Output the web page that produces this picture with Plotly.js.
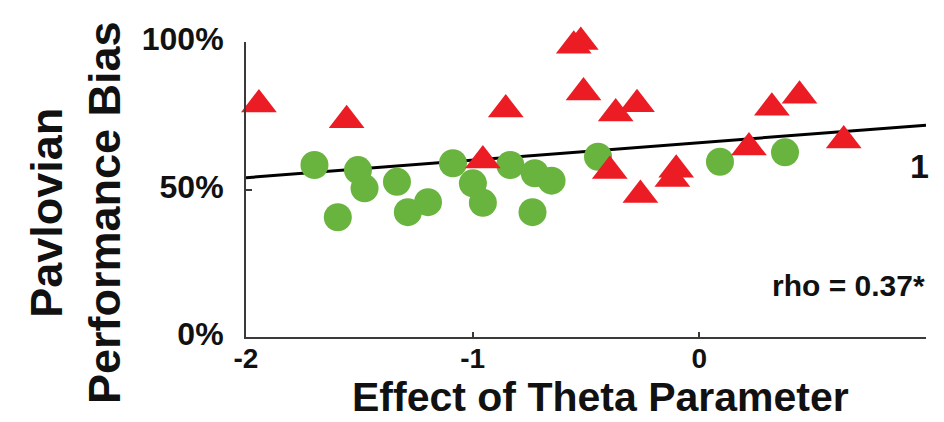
<!DOCTYPE html>
<html>
<head>
<meta charset="utf-8">
<script src="https://cdn.plot.ly/plotly-3.0.1.min.js"></script>
<style>
  html, body { margin: 0; padding: 0; background: #ffffff; }
  #chart { width: 944px; height: 422px; }
</style>
</head>
<body>
<div id="chart"></div>
<script>
// Participants with a positive theta effect (red triangles)
const triX = [-1.943, -1.556, -0.955, -0.854, -0.554, -0.523, -0.511, -0.395, -0.369,
              -0.275, -0.260, -0.119, -0.102, 0.219, 0.320, 0.442, 0.637];
const triY = [78.8, 73.5, 59.8, 77.1, 98.7, 100.0, 82.9, 56.3, 75.8,
              78.9, 48.1, 53.6, 56.7, 64.2, 77.7, 81.8, 66.6];

// Remaining participants (green circles)
const circX = [-1.698, -1.595, -1.506, -1.477, -1.334, -1.286, -1.197, -1.087, -0.999,
               -0.955, -0.834, -0.736, -0.726, -0.652, -0.447, 0.091, 0.378];
const circY = [58.3, 40.6, 56.6, 50.4, 52.6, 42.3, 45.7, 58.9, 52.1,
               45.5, 58.3, 42.3, 55.5, 53.0, 61.1, 59.4, 62.6];

// Regression line end points
const fitX = [-2, 1];
const fitY = [54.0, 71.8];

// Axis ticks and labels
const xTicks = [-2, -1, 0];
const xTickText = ['-2', '-1', '0'];
const yTicks = [0, 50, 100];
const yTickText = ['0%', '50%', '100%'];
const xTitle = 'Effect of Theta Parameter';
const yTitle = 'Pavlovian<br>Performance Bias';
const statText = 'rho = 0.37*';
const cornerText = '1';

const FONT = 'Arial, "Liberation Sans", Helvetica, sans-serif';
const AXIS_COLOR = '#3a3a3a';

const traces = [
  {
    x: fitX, y: fitY, type: 'scatter', mode: 'lines',
    line: { color: '#000000', width: 3 },
    hoverinfo: 'skip', cliponaxis: false
  },
  {
    x: circX, y: circY, type: 'scatter', mode: 'markers',
    marker: { symbol: 'circle', size: 28, color: '#69b43e', line: { width: 0 } },
    cliponaxis: false
  },
  {
    x: triX, y: triY, type: 'scatter', mode: 'markers',
    marker: { symbol: 'triangle-up', size: 31, color: '#ec1c24', line: { width: 0 } },
    cliponaxis: false
  }
];

const layout = {
  width: 944, height: 422,
  margin: { l: 246, r: 18, t: 42, b: 85 },
  paper_bgcolor: '#ffffff', plot_bgcolor: '#ffffff',
  showlegend: false,
  font: { family: FONT, color: '#111111' },
  xaxis: {
    range: [-2, 1],
    tickvals: xTicks, ticktext: xTickText,
    ticks: 'inside', ticklen: 5, tickwidth: 2, tickcolor: AXIS_COLOR,
    showline: true, linecolor: AXIS_COLOR, linewidth: 2,
    showgrid: false, zeroline: false,
    ticklabelstandoff: -5,
    tickfont: { family: FONT, size: 28, color: '#111111', weight: 'bold' }
  },
  yaxis: {
    range: [0, 100],
    tickvals: yTicks, ticktext: yTickText,
    ticks: 'inside', ticklen: 6, tickwidth: 2, tickcolor: AXIS_COLOR,
    showline: true, linecolor: AXIS_COLOR, linewidth: 2,
    showgrid: false, zeroline: false,
    ticklabelstandoff: 14,
    ticklabelshift: -3,
    tickfont: { family: FONT, size: 32, color: '#111111', weight: 'bold' }
  },
  annotations: [
    {
      text: xTitle, xref: 'paper', yref: 'paper', x: 0.5206, y: -0.204,
      xanchor: 'center', yanchor: 'middle', showarrow: false, borderpad: 0,
      font: { family: FONT, size: 41, color: '#111111', weight: 'bold' }
    },
    {
      text: yTitle, xref: 'paper', yref: 'paper', x: -0.25, y: 0.42,
      xanchor: 'center', yanchor: 'middle', showarrow: false, textangle: -90,
      font: { family: FONT, size: 45, color: '#111111', weight: 'bold' }
    },
    {
      text: statText, xref: 'paper', yref: 'paper', x: 1.0015, y: 0.176,
      xanchor: 'right', yanchor: 'middle', showarrow: false,
      font: { family: FONT, size: 30, color: '#111111', weight: 'bold' }
    },
    {
      text: cornerText, xref: 'paper', yref: 'paper', x: 0.991, y: 0.58,
      xanchor: 'center', yanchor: 'middle', showarrow: false,
      font: { family: FONT, size: 34, color: '#111111', weight: 'bold' }
    }
  ]
};

Plotly.newPlot('chart', traces, layout, { displayModeBar: false, staticPlot: true });
</script>
</body>
</html>
